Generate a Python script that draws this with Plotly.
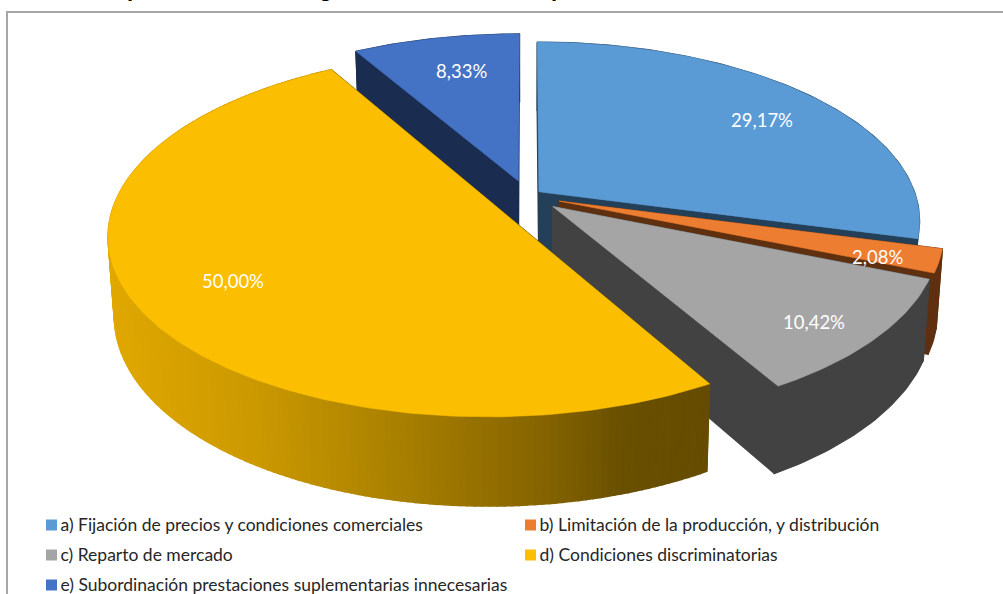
import numpy as np
import plotly.graph_objects as go

# ---- data ----
categories = [
    "a) Fijación de precios y condiciones comerciales",
    "b) Limitación de la producción, y distribución",
    "c) Reparto de mercado",
    "d) Condiciones discriminatorias",
    "e) Subordinación prestaciones suplementarias innecesarias",
]
values = [29.17, 2.08, 10.42, 50.00, 8.33]
title_fragments = ["p", "g", ",", "p"]   # only the descenders of the cropped title are visible

# ---- style / layout ----
top_colors = ["#5B9BD5", "#ED7D31", "#A5A5A5", "#FBBE00", "#4472C4"]
wall_colors = ["#234058", "#5F300F", "#424242", "#665000", "#1A2D50"]
explode = [0.04, 0.09, 0.09, 0.10, 0.09]
label_r = [0.80, 0.85, 0.83, 0.78, 0.72]
label_shift = [(3, 7), (-2, 5), (-2, 8), (15, 2), (5, -3)]
draw_order = [4, 0, 1, 2, 3]
FONT = "Lato, Carlito, Calibri, sans-serif"
W, H = 1003, 594
CX, CY, RX, RY, K = 527, 196, 377, 175, 0.16
F, DEPTH = 0.985, 77
legend_xy = [(51.5, 525), (530.5, 525), (51.5, 555), (530.5, 555), (51.5, 585)]
title_x = [133, 325, 540, 557]
gold_stops = [(110, (224, 168, 0)), (250, (204, 154, 0)), (400, (169, 128, 0)),
              (550, (132, 99, 0)), (620, (106, 80, 0)), (720, (101, 76, 0))]


def project(X, Y, bottom=False):
    s = 1 / (1 + K * Y)
    x, y = RX * X * s, -RY * Y * s
    if bottom:
        return CX + F * x, CY + F * y + DEPTH * s
    return CX + x, CY + y


def gold(px):
    xs = [p[0] for p in gold_stops]
    return "rgb(%d,%d,%d)" % tuple(np.interp(px, xs, [p[1][i] for p in gold_stops]) for i in range(3))


fig = go.Figure()


def poly(xs, ys, color, line=0.6):
    fig.add_trace(go.Scatter(x=list(xs) + [xs[0]], y=list(ys) + [ys[0]], mode="lines", fill="toself",
                             fillcolor=color, line=dict(color=color, width=line),
                             hoverinfo="skip", showlegend=False))


total = sum(values)
edges = np.concatenate([[0], np.cumsum(values)]) / total * 2 * np.pi
labels = []
for i in draw_order:
    a0, a1 = edges[i], edges[i + 1]
    mid = (a0 + a1) / 2
    ox, oy = explode[i] * np.sin(mid), explode[i] * np.cos(mid)
    th = np.linspace(a0, a1, max(8, int((a1 - a0) * 60)))
    X, Y = ox + np.sin(th), oy + np.cos(th)
    # radial walls
    for a in (a0, a1):
        xa, ya = ox + np.sin(a), oy + np.cos(a)
        p = [project(ox, oy), project(xa, ya), project(xa, ya, True), project(ox, oy, True)]
        poly([q[0] for q in p], [q[1] for q in p], wall_colors[i], line=1.2)
    # outer wall
    if i == 3:
        for j in range(len(th) - 1):
            tx0, ty0 = project(X[j], Y[j])
            tx1, ty1 = project(X[j + 1], Y[j + 1])
            bx0, by0 = project(X[j], Y[j], True)
            bx1, by1 = project(X[j + 1], Y[j + 1], True)
            poly([tx0, tx1, bx1, bx0], [ty0, ty1, by1, by0], gold((tx0 + tx1) / 2), line=1.5)
    else:
        tx, ty = project(X, Y)
        bx, by = project(X, Y, True)
        poly(np.r_[tx, bx[::-1]], np.r_[ty, by[::-1]], wall_colors[i], line=1.2)
    # top
    tx, ty = project(X, Y)
    ax, ay = project(ox, oy)
    poly(np.r_[ax, tx], np.r_[ay, ty], top_colors[i])
    lx, ly = project(ox + label_r[i] * np.sin(mid), oy + label_r[i] * np.cos(mid))
    labels.append(dict(x=lx + label_shift[i][0], y=ly + label_shift[i][1],
                       text=f"{values[i]:.2f}%".replace(".", ","), showarrow=False,
                       font=dict(family=FONT, size=18.5, color="white")))

# legend entries
for name, color, (lx, ly) in zip(categories, top_colors, legend_xy):
    fig.add_trace(go.Scatter(x=[lx], y=[ly], mode="markers",
                             marker=dict(symbol="square", size=11, color=color, line=dict(width=0)),
                             name=name, showlegend=False, cliponaxis=False))
    fig.add_trace(go.Scatter(x=[lx + 9], y=[ly + 2], mode="text", text=[name], textposition="middle right",
                             textfont=dict(family=FONT, size=17.5, color="#262626"),
                             name=name, showlegend=False, cliponaxis=False))

for fx, frag in zip(title_x, title_fragments):
    labels.append(dict(x=fx, y=0, yanchor="bottom", yshift=-3, text=f"<b>{frag}</b>", showarrow=False,
                       font=dict(family="Liberation Sans", size=22, color="black")))

fig.update_layout(
    width=W, height=H, autosize=False, margin=dict(l=0, r=0, t=0, b=0),
    paper_bgcolor="white", plot_bgcolor="white", showlegend=False,
    xaxis=dict(range=[0, W], visible=False, fixedrange=True),
    yaxis=dict(range=[H, 0], visible=False, fixedrange=True),
    annotations=labels,
    shapes=[dict(type="line", x0=7, x1=7, y0=12, y1=H, line=dict(color="#A6A6A6", width=2), layer="below"),
            dict(type="line", x0=6, x1=W, y0=12, y1=12, line=dict(color="#A6A6A6", width=2), layer="below")],
)
fig.write_html("out.html", config=dict(displayModeBar=False),
               post_script="document.body.style.margin='0';document.documentElement.style.overflow='hidden';")
